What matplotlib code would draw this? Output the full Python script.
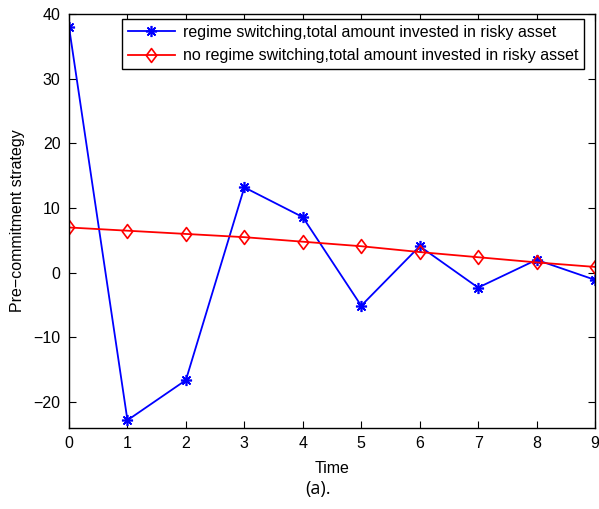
import matplotlib.pyplot as plt
from matplotlib.path import Path
import numpy as np

plt.rcParams['font.family'] = ['Liberation Sans', 'DejaVu Sans']

time = np.arange(10)
regime_switching = [38.0, -22.8, -16.6, 13.2, 8.6, -5.1, 4.1, -2.3, 2.0, -1.1]
no_regime_switching = [7.0, 6.5, 6.0, 5.5, 4.8, 4.1, 3.2, 2.4, 1.6, 0.9]

# slightly narrow diamond, like the default one in matlab
diamond = Path([(0, 1), (0.75, 0), (0, -1), (-0.75, 0), (0, 1)],
               [Path.MOVETO, Path.LINETO, Path.LINETO, Path.LINETO, Path.CLOSEPOLY])

fig = plt.figure(figsize=(5.99, 5.09), dpi=100)
ax = fig.add_axes([69 / 599, 1 - 428 / 509, 526 / 599, 414 / 509])

ax.plot(time, regime_switching, 'b-', marker=(8, 2, 0), linewidth=1.3,
        markersize=8, mew=1.2,
        label='regime switching,total amount invested in risky asset')
ax.plot(time, no_regime_switching, 'r-', marker=diamond, linewidth=1.3,
        markersize=10, mfc='none', mew=1.2,
        label='no regime switching,total amount invested in risky asset')

ax.set_xlim(0, 9)
ax.set_ylim(-24, 40)
ax.set_xticks(range(10))
ax.set_yticks([-20, -10, 0, 10, 20, 30, 40])
ax.set_yticklabels(['\u221220', '\u221210', '0', '10', '20', '30', '40'])
ax.tick_params(direction='in', top=True, right=True, labelsize=11.5, length=5, pad=6)
for s in ax.spines.values():
    s.set_linewidth(1.0)

ax.set_xlabel('Time', fontsize=11.5, labelpad=7)
ax.set_ylabel('Pre\u2212commitment strategy', fontsize=11.5, labelpad=6)

leg = ax.legend(loc='upper right', bbox_to_anchor=(584 / 599, 1 - 19 / 509),
                bbox_transform=fig.transFigure, fontsize=11.5, fancybox=False,
                framealpha=1, edgecolor='black', borderaxespad=0,
                handlelength=2.95, borderpad=0.35, labelspacing=0.55, handletextpad=0.5)
leg.get_frame().set_linewidth(1.0)

fig.text(318 / 599, 1 - 489 / 509, '(a).', ha='center', va='center',
         fontsize=13, family='Open Sans')

fig.savefig('out.png', dpi=100)
